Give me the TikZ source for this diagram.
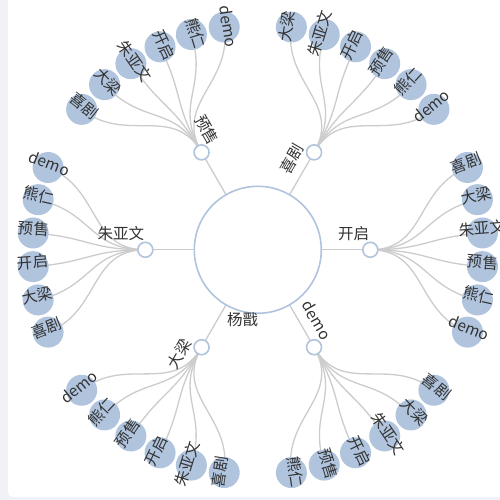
\documentclass[tikz,border=0pt]{standalone}
\usepackage{fontspec}
\setmainfont{Noto Sans CJK SC}
\usetikzlibrary{calc}
\definecolor{lsb}{HTML}{B0C4DE}
\definecolor{edgec}{HTML}{CCCCCC}
\definecolor{txt}{HTML}{333333}
\definecolor{stripc}{HTML}{F1F2F7}
\pgfdeclarelayer{bg}
\pgfdeclarelayer{edges}
\pgfdeclarelayer{labels}
\pgfsetlayers{bg,edges,main,labels}
\begin{document}
\begin{tikzpicture}[x=1pt,y=1pt,
  edgeline/.style={draw=edgec, line width=1.3pt},
  rootdot/.style={circle, draw=lsb, fill=white, line width=1.6pt, minimum size=127pt, inner sep=0pt},
  childdot/.style={circle, draw=lsb, fill=white, line width=1.6pt, minimum size=15pt, inner sep=0pt},
  leafdot/.style={circle, fill=lsb, minimum size=31pt, inner sep=0pt},
  lbl/.style={text=txt, font=\fontsize{15.5}{18}\selectfont, inner sep=0pt}]
\useasboundingbox (0,0) rectangle (500,500);
\begin{pgfonlayer}{bg}
  \fill[stripc] (0,0) rectangle (500,500);
  \fill[white, rounded corners=5pt] (8,3) rectangle (512,512);
\end{pgfonlayer}
\node[rootdot] (r) at (257.8,250.2) {};
\begin{pgfonlayer}{labels}
  \node[lbl, anchor=east] (rl) at ($(r.center)+(0.5,-69.4)$) {杨戬};
\end{pgfonlayer}
\foreach \cname/\cth/\leaves [count=\i] in {
  喜剧/60/{大梁,朱亚文,开启,预售,熊仁,demo},
  开启/0/{喜剧,大梁,朱亚文,预售,熊仁,demo},
  demo/-60/{喜剧,大梁,朱亚文,开启,预售,熊仁},
  大梁/-120/{喜剧,朱亚文,开启,预售,熊仁,demo},
  朱亚文/180/{喜剧,大梁,开启,预售,熊仁,demo},
  预售/120/{喜剧,大梁,朱亚文,开启,熊仁,demo}} {
  \pgfmathsetmacro{\crh}{abs(\cth)>90 ? \cth-180 : \cth}
  \node[childdot] (c\i) at ($(r.center)+(\cth:112.5)$) {};
  \begin{pgfonlayer}{labels}
    \node[lbl, rotate=\crh, anchor=east] (cl\i) at ($(c\i.center)+(\crh+90:16)+(\crh:-1)$) {\cname};
  \end{pgfonlayer}
  \begin{pgfonlayer}{edges}
    \draw[edgeline] (r.center) -- (c\i.center);
  \end{pgfonlayer}
  \foreach \lname [count=\j] in \leaves {
    \pgfmathsetmacro{\th}{\cth+(3.5-\j)*360/42}
    \pgfmathsetmacro{\rh}{abs(\th)>90 ? \th-180 : \th}
    \node[leafdot] (l\i-\j) at ($(r.center)+(\th:225.3)$) {};
    \begin{pgfonlayer}{labels}
      \node[lbl, rotate=\rh, anchor=center] (ll\i-\j) at ($(l\i-\j.center)+(\rh+90:4.5)$) {\lname};
    \end{pgfonlayer}
    \begin{pgfonlayer}{edges}
      \draw[edgeline] (c\i.center) .. controls ($(r.center)+(\cth:168.9)$) and ($(r.center)+(\th:168.9)$) .. (l\i-\j.center);
    \end{pgfonlayer}
  }
}
\end{tikzpicture}
\end{document}
